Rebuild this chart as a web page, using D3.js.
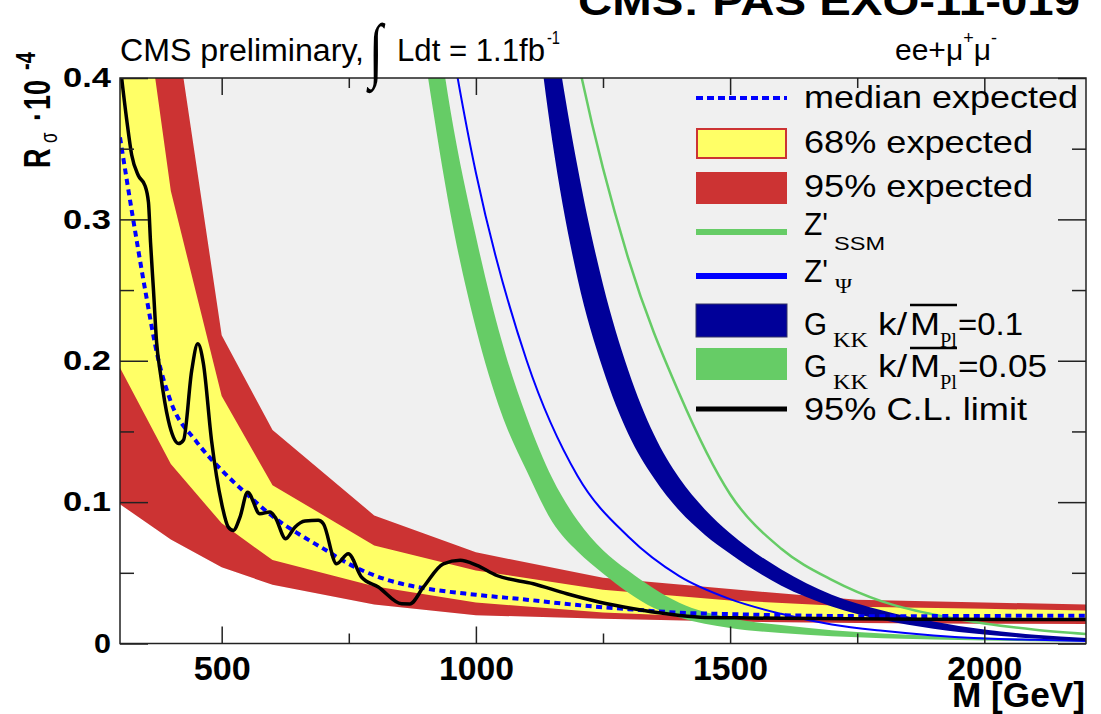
<!DOCTYPE html>
<html><head><meta charset="utf-8">
<script src="https://cdn.jsdelivr.net/npm/d3@7"></script>
<style>body{margin:0;background:#fff}svg{display:block}</style>
</head><body><svg id="c" width="1101" height="714"></svg>
<script>
// ---------- data ----------
const massBand = [300,400,500,600,800,1000,1250,1500,1750,2000,2200];
const up95 = [0.70,0.46,0.218,0.151,0.0906,0.0645,0.0465,0.0385,0.031,0.029,0.0276];
const up68 = [0.58,0.32,0.175,0.112,0.0694,0.0517,0.038,0.0305,0.026,0.0245,0.0234];
const lo68 = [0.195,0.127,0.085,0.059,0.0405,0.029,0.022,0.0182,0.0172,0.0167,0.0164];
const lo95 = [0.0985,0.0735,0.054,0.0415,0.0275,0.020,0.0175,0.0155,0.0145,0.014,0.0138];

const medMass = [300,325,350,375,400,450,500,550,600,650,700,750,800,850,900,1000,1100,1200,1300,1400,1500,1600,1800,2000,2200];
const medVal  = [0.358,0.302,0.249,0.2015,0.171,0.143,0.1226,0.1055,0.090,0.0778,0.0671,0.0563,0.0482,0.0426,0.039,0.0345,0.031,0.0272,0.0243,0.0218,0.0208,0.020,0.0193,0.0195,0.0197];

const obsMass = [300,313,323,336,349,356,360,366,372,380,395,405,415,425,441,453,464,480,500,513,523,536,551,575,595,605,626,644,664,690,700,726,749,775,808,854,870,897,936,969,1002,1041,1113,1179,1244,1310,1375,1441,1506,1600,1736,1900,2050,2200];
const obsVal  = [0.41,0.371,0.3455,0.331,0.324,0.312,0.284,0.249,0.213,0.19,0.158,0.146,0.1414,0.144,0.193,0.212,0.198,0.1437,0.0989,0.0823,0.080,0.0894,0.107,0.0918,0.093,0.0894,0.0741,0.0823,0.0866,0.0871,0.0847,0.0564,0.0635,0.047,0.040,0.0281,0.028,0.040,0.0564,0.0588,0.0552,0.0481,0.0423,0.0352,0.0292,0.0246,0.021,0.0186,0.0182,0.0178,0.0175,0.0172,0.0170,0.017];

const gkk05Mass = [900,950,1000,1050,1100,1150,1200,1250,1300,1350,1400,1500,1600,1700,1800,2000,2200];
const gkk05Lo = [0.414,0.304,0.223,0.163,0.122,0.0862,0.0651,0.0496,0.0359,0.0251,0.0184,0.0109,0.0074,0.00505,0.0037,0.0021,0.0012];
const gkk05Hi = [0.502,0.377,0.288,0.215,0.16,0.117,0.087,0.066,0.0514,0.0389,0.0288,0.0181,0.013,0.00935,0.0070,0.0042,0.0025];

const gkk1Mass = [1100,1150,1200,1250,1300,1350,1400,1450,1500,1600,1700,1800,1900,2000,2100,2200];
const gkk1Lo = [0.50,0.356,0.258,0.194,0.148,0.117,0.094,0.077,0.0635,0.041,0.0262,0.0166,0.0105,0.0064,0.0035,0.0017];
const gkk1Hi = [0.59,0.446,0.337,0.254,0.193,0.148,0.117,0.095,0.078,0.0525,0.0345,0.0233,0.0156,0.0099,0.0062,0.0039];

const zpsiMass = [900,1000,1100,1200,1300,1400,1500,1600,1700,1800,1900,2000,2100,2200];
const zpsiVal  = [0.539,0.333,0.2,0.1185,0.0755,0.0477,0.0314,0.021,0.0135,0.009,0.0057,0.0036,0.0026,0.0018];

const zssmMass = [1150,1200,1300,1400,1500,1600,1700,1800,1900,2000,2100,2200];
const zssmVal  = [0.51,0.414,0.272,0.1768,0.1056,0.0672,0.045,0.0296,0.0205,0.0142,0.0098,0.0068];

const xMajor = [500,1000,1500,2000];
const xMinor = [750,1250,1750];
const yMajor = [0,0.1,0.2,0.3,0.4];
const yMinor = [0.05,0.15,0.25,0.35];

// ---------- colours ----------
const C = {grey:"#f0f0f0", yellow:"#ffff66", red:"#cc3333", green:"#66cc66", navy:"#000099", blue:"#0000ff", black:"#000"};
const SANS = "'Liberation Sans', Arial, Helvetica, sans-serif";
const SERIF = "'Liberation Serif', 'Times New Roman', serif";

const svg = d3.select("#c");
svg.append("rect").attr("width",1101).attr("height",714).attr("fill","#fff");

const x = d3.scaleLinear().domain([300,2200]).range([120,1086]);
const y = d3.scaleLinear().domain([0,0.4]).range([643.5,78]);

svg.append("defs").append("clipPath").attr("id","pc")
  .append("rect").attr("x",x(300)).attr("y",y(0.4)).attr("width",x(2200)-x(300)).attr("height",y(0)-y(0.4));

const plot = svg.append("g").attr("clip-path","url(#pc)");
plot.append("rect").attr("x",x(300)).attr("y",y(0.4)).attr("width",x(2200)-x(300)).attr("height",y(0)-y(0.4)).attr("fill",C.grey);

const band = (m, lo, hi) => m.map((d,i)=>({m:d, lo:lo[i], hi:hi[i]}));
const areaLin = d3.area().x(d=>x(d.m)).y0(d=>y(d.lo)).y1(d=>y(d.hi));
const areaSmooth = d3.area().curve(d3.curveMonotoneX).x(d=>x(d.m)).y0(d=>y(d.lo)).y1(d=>y(d.hi));
const lineSmooth = d3.line().curve(d3.curveMonotoneX).x(d=>x(d.m)).y(d=>y(d.v));
const pts = (m, v) => m.map((d,i)=>({m:d, v:v[i]}));

// white region below the 95% band
plot.append("path").datum(band(massBand, massBand.map(()=>0), lo95)).attr("d",areaLin).attr("fill","#fff");
plot.append("path").datum(band(massBand, lo95, up95)).attr("d",areaLin).attr("fill",C.red);
plot.append("path").datum(band(massBand, lo68, up68)).attr("d",areaLin).attr("fill",C.yellow);

// signal models
plot.append("path").datum(band(gkk05Mass, gkk05Lo, gkk05Hi)).attr("d",areaSmooth).attr("fill",C.green);
plot.append("path").datum(pts(zpsiMass, zpsiVal)).attr("d",lineSmooth).attr("fill","none").attr("stroke",C.blue).attr("stroke-width",2);
plot.append("path").datum(band(gkk1Mass, gkk1Lo, gkk1Hi)).attr("d",areaSmooth).attr("fill",C.navy);
plot.append("path").datum(pts(zssmMass, zssmVal)).attr("d",lineSmooth).attr("fill","none").attr("stroke",C.green).attr("stroke-width",2.5);

// median expected & observed
plot.append("path").datum(pts(medMass, medVal)).attr("d",lineSmooth).attr("fill","none")
  .attr("stroke",C.blue).attr("stroke-width",4).attr("stroke-dasharray","6,4.5");
plot.append("path").datum(pts(obsMass, obsVal)).attr("d",lineSmooth).attr("fill","none")
  .attr("stroke",C.black).attr("stroke-width",3.5).attr("stroke-linejoin","round");

// ---------- axes ----------
function styleAxis(g){
  g.select(".domain").remove();
  g.selectAll(".tick line").attr("stroke","#222").attr("stroke-width",1.5);
  g.attr("font-family",SANS).attr("font-weight","bold").attr("fill","#000");
  g.selectAll("text").attr("fill","#000");
}
const gxb = svg.append("g").attr("transform",`translate(0,${y(0)})`)
  .call(d3.axisBottom(x).tickValues(xMajor).tickSizeInner(-17).tickSizeOuter(0).tickPadding(13).tickFormat(d3.format("d")));
styleAxis(gxb); gxb.attr("font-size",33);
gxb.selectAll("text").attr("textLength",d=>d<1000?57:75).attr("lengthAdjust","spacingAndGlyphs");
const gxbm = svg.append("g").attr("transform",`translate(0,${y(0)})`)
  .call(d3.axisBottom(x).tickValues(xMinor).tickSizeInner(-10).tickSizeOuter(0).tickFormat(""));
styleAxis(gxbm);
const gxt = svg.append("g").attr("transform",`translate(0,${y(0.4)})`)
  .call(d3.axisTop(x).tickValues(xMajor).tickSizeInner(-17).tickSizeOuter(0).tickFormat(""));
styleAxis(gxt);
const gxtm = svg.append("g").attr("transform",`translate(0,${y(0.4)})`)
  .call(d3.axisTop(x).tickValues(xMinor).tickSizeInner(-10).tickSizeOuter(0).tickFormat(""));
styleAxis(gxtm);

const gyl = svg.append("g").attr("transform",`translate(${x(300)},0)`)
  .call(d3.axisLeft(y).tickValues(yMajor).tickSizeInner(-28).tickSizeOuter(0).tickPadding(9).tickFormat(d=>d===0?"0":d.toFixed(1)));
styleAxis(gyl); gyl.attr("font-size",27);
gyl.selectAll("text").attr("textLength",d=>d===0?17:48).attr("lengthAdjust","spacingAndGlyphs");
const gylm = svg.append("g").attr("transform",`translate(${x(300)},0)`)
  .call(d3.axisLeft(y).tickValues(yMinor).tickSizeInner(-14).tickSizeOuter(0).tickFormat(""));
styleAxis(gylm);
const gyr = svg.append("g").attr("transform",`translate(${x(2200)},0)`)
  .call(d3.axisRight(y).tickValues(yMajor).tickSizeInner(-28).tickSizeOuter(0).tickFormat(""));
styleAxis(gyr);
const gyrm = svg.append("g").attr("transform",`translate(${x(2200)},0)`)
  .call(d3.axisRight(y).tickValues(yMinor).tickSizeInner(-14).tickSizeOuter(0).tickFormat(""));
styleAxis(gyrm);

// frame
svg.append("rect").attr("x",x(300)).attr("y",y(0.4)).attr("width",x(2200)-x(300)).attr("height",y(0)-y(0.4))
  .attr("fill","none").attr("stroke","#222").attr("stroke-width",1.5);

// ---------- text helper ----------
function T(str, xx, yy, o={}){
  const t = svg.append("text").attr("x",xx).attr("y",yy).text(str)
    .attr("font-family",o.family||SANS).attr("font-size",o.size||32)
    .attr("font-weight",o.weight||"normal").attr("fill",o.fill||"#000");
  if(o.anchor) t.attr("text-anchor",o.anchor);
  if(o.len) t.attr("textLength",o.len).attr("lengthAdjust","spacingAndGlyphs");
  return t;
}

// axis titles
T("M [GeV]", 1085, 707, {size:35, weight:"bold", anchor:"end", len:133});
const yt = svg.append("text").attr("transform","translate(50,168) rotate(-90) scale(1,1.4)")
  .attr("font-family",SANS).attr("font-weight","bold").attr("font-size",27).attr("fill","#000");
yt.append("tspan").attr("x",0).attr("y",0).text("R");
yt.append("tspan").attr("x",25).attr("y",5).attr("font-size",17).attr("font-weight","normal").text("σ");
yt.append("tspan").attr("x",47).attr("y",0).text("·");
yt.append("tspan").attr("x",58).attr("y",0).text("10");
yt.append("tspan").attr("x",98).attr("y",-11).attr("font-size",20).text("-4");

// header
T("CMS: PAS EXO-11-019", 578, 15, {size:40, weight:"bold", len:502});
T("CMS preliminary,", 120, 61, {size:31, len:244});
svg.append("text").attr("transform","translate(369,74) scale(0.7,1)").text("∫")
  .attr("font-family",SERIF).attr("font-size",72).attr("fill","#000");
T("Ldt = 1.1fb", 397, 61, {size:31, len:148});
T("-1", 547, 44, {size:19, len:13});
const ee = svg.append("text").attr("x",895).attr("y",60).attr("font-family",SANS).attr("font-size",30).attr("fill","#000");
ee.append("tspan").text("ee+μ");
ee.append("tspan").attr("dy",-16).attr("font-size",18).text("+");
ee.append("tspan").attr("dy",16).text("μ");
ee.append("tspan").attr("dy",-16).attr("font-size",18).text("-");

// ---------- legend ----------
const L = svg.append("g");
const lx0 = 696, lx1 = 787;
L.append("line").attr("x1",lx0).attr("x2",lx1).attr("y1",98).attr("y2",98).attr("stroke",C.blue).attr("stroke-width",4).attr("stroke-dasharray","7,4");
L.append("rect").attr("x",lx0+1).attr("y",129).attr("width",lx1-lx0-2).attr("height",29).attr("fill",C.yellow).attr("stroke",C.red).attr("stroke-width",2);
L.append("rect").attr("x",lx0).attr("y",172).attr("width",lx1-lx0).attr("height",32).attr("fill",C.red);
L.append("line").attr("x1",lx0).attr("x2",lx1).attr("y1",232).attr("y2",232).attr("stroke",C.green).attr("stroke-width",6);
L.append("line").attr("x1",lx0).attr("x2",lx1).attr("y1",276).attr("y2",276).attr("stroke",C.blue).attr("stroke-width",6);
L.append("rect").attr("x",lx0).attr("y",304).attr("width",lx1-lx0).attr("height",33).attr("fill",C.navy).attr("stroke","#333366").attr("stroke-width",1);
L.append("rect").attr("x",lx0).attr("y",348).attr("width",lx1-lx0).attr("height",32).attr("fill",C.green);
L.append("line").attr("x1",lx0).attr("x2",lx1).attr("y1",409).attr("y2",409).attr("stroke",C.black).attr("stroke-width",5);

T("median expected", 804, 108, {len:274});
T("68% expected", 804, 153, {len:229});
T("95% expected", 804, 197, {len:229});
T("Z'", 804, 235, {len:24});
T("SSM", 834, 250, {size:18, len:51});
T("Z'", 804, 282, {len:24});
T("Ψ", 835, 293, {size:20, family:SERIF, len:17});
[[335,305,"=0.1",65],[377,348,"=0.05",89]].forEach(([b,ov,val,vl])=>{
  T("G", 804, b, {len:23});
  T("KK", 833, b+12, {size:20, family:SERIF, len:35});
  T("k/", 878, b, {len:29});
  T("M", 910, b, {len:30});
  T("Pl", 940, b+12, {size:20, family:SERIF, len:17});
  T(val, 958, b, {len:vl});
  svg.append("line").attr("x1",910).attr("x2",957).attr("y1",ov).attr("y2",ov).attr("stroke","#000").attr("stroke-width",2.5);
});
T("95% C.L. limit", 804, 420, {len:223});
</script></body></html>
